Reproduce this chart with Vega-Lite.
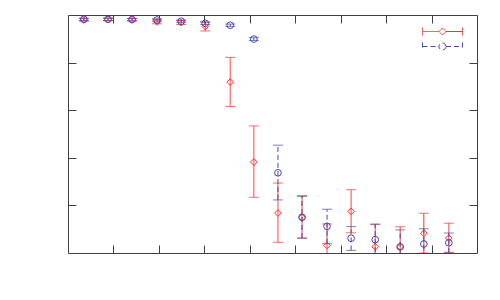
{
  "$schema": "https://vega.github.io/schema/vega-lite/v6.json",
  "width": 409,
  "height": 238,
  "autosize": {"type": "none"},
  "padding": {"left": 68, "top": 15, "right": 23, "bottom": 47},
  "background": "white",
  "config": {
    "view": {"stroke": "#404040", "strokeWidth": 1},
    "axis": {"labels": false, "domain": false, "grid": false, "title": null, "tickSize": -8, "tickColor": "#404040", "tickWidth": 1}
  },
  "data": {"values": [
    {"x": 0.35, "s": "r", "y": 0.979, "lo": 0.974, "hi": 0.985},
    {"x": 0.88, "s": "r", "y": 0.981, "lo": 0.976, "hi": 0.986},
    {"x": 1.41, "s": "r", "y": 0.980, "lo": 0.975, "hi": 0.985},
    {"x": 1.96, "s": "r", "y": 0.971, "lo": 0.963, "hi": 0.980},
    {"x": 2.49, "s": "r", "y": 0.968, "lo": 0.960, "hi": 0.977},
    {"x": 3.02, "s": "r", "y": 0.952, "lo": 0.933, "hi": 0.971},
    {"x": 3.57, "s": "r", "y": 0.718, "lo": 0.616, "hi": 0.822},
    {"x": 4.09, "s": "r", "y": 0.382, "lo": 0.234, "hi": 0.534},
    {"x": 4.62, "s": "r", "y": 0.168, "lo": 0.045, "hi": 0.294},
    {"x": 5.15, "s": "r", "y": 0.150, "lo": 0.062, "hi": 0.241},
    {"x": 5.70, "s": "r", "y": 0.032, "lo": -0.06, "hi": 0.122},
    {"x": 6.23, "s": "r", "y": 0.175, "lo": 0.085, "hi": 0.266},
    {"x": 6.76, "s": "r", "y": 0.026, "lo": -0.07, "hi": 0.121},
    {"x": 7.31, "s": "r", "y": 0.026, "lo": -0.06, "hi": 0.110},
    {"x": 7.83, "s": "r", "y": 0.083, "lo": 0.0, "hi": 0.167},
    {"x": 8.38, "s": "r", "y": 0.063, "lo": 0.003, "hi": 0.125},
    {"x": 0.35, "s": "b", "y": 0.982, "lo": 0.977, "hi": 0.987},
    {"x": 0.88, "s": "b", "y": 0.982, "lo": 0.977, "hi": 0.987},
    {"x": 1.41, "s": "b", "y": 0.981, "lo": 0.976, "hi": 0.986},
    {"x": 1.96, "s": "b", "y": 0.979, "lo": 0.974, "hi": 0.984},
    {"x": 2.49, "s": "b", "y": 0.974, "lo": 0.969, "hi": 0.979},
    {"x": 3.02, "s": "b", "y": 0.965, "lo": 0.960, "hi": 0.970},
    {"x": 3.57, "s": "b", "y": 0.957, "lo": 0.952, "hi": 0.962},
    {"x": 4.09, "s": "b", "y": 0.899, "lo": 0.893, "hi": 0.905},
    {"x": 4.62, "s": "b", "y": 0.337, "lo": 0.223, "hi": 0.453},
    {"x": 5.15, "s": "b", "y": 0.150, "lo": 0.063, "hi": 0.238},
    {"x": 5.70, "s": "b", "y": 0.112, "lo": 0.039, "hi": 0.184},
    {"x": 6.23, "s": "b", "y": 0.062, "lo": 0.011, "hi": 0.111},
    {"x": 6.76, "s": "b", "y": 0.056, "lo": -0.03, "hi": 0.121},
    {"x": 7.31, "s": "b", "y": 0.026, "lo": -0.04, "hi": 0.097},
    {"x": 7.83, "s": "b", "y": 0.038, "lo": -0.02, "hi": 0.102},
    {"x": 8.38, "s": "b", "y": 0.043, "lo": 0.0, "hi": 0.084}
  ]},
  "encoding": {
    "color": {
      "field": "s", "type": "nominal",
      "scale": {"domain": ["r", "b"], "range": ["#ff3030", "#4848a8"]},
      "legend": {
        "orient": "none", "legendX": 366.5, "legendY": 8.5, "title": null,
        "labelExpr": "''", "padding": 0, "rowPadding": 1, "symbolSize": 225,
        "symbolStrokeWidth": 1, "symbolFillColor": "transparent",
        "encode": {"symbols": {"update": {
          "shape": {"signal": "datum.value === 'r' ? 'M-2.667,0H-0.467M0.467,0H2.667M-2.667,-0.533V0.533M2.667,-0.533V0.533M0,-0.467L0.467,0L0,0.467L-0.467,0Z' : 'M-2.667,0H-0.467M0.467,0H2.667M-2.667,-0.533V0.533M2.667,-0.533V0.533M0.467,0A0.467,0.467,0,1,1,-0.467,0A0.467,0.467,0,1,1,0.467,0Z'"},
          "strokeDash": {"signal": "datum.value === 'r' ? [1,0] : [5,3]"},
          "fill": {"value": "transparent"}
        }}}
      }
    }
  },
  "layer": [
    {
      "mark": {"type": "rule", "clip": true, "strokeWidth": 1},
      "encoding": {
        "x": {"field": "x", "type": "quantitative", "scale": {"domain": [0, 9], "nice": false}, "axis": {"orient": "bottom", "values": [1, 2, 3, 4, 5, 6, 7, 8]}},
        "y": {"field": "lo", "type": "quantitative", "scale": {"domain": [0, 1], "nice": false, "zero": false}, "axis": {"orient": "left", "values": [0.2, 0.4, 0.6, 0.8]}},
        "y2": {"field": "hi"},
        "strokeDash": {"condition": {"test": "datum.s === 'r'", "value": [1, 0]}, "value": [5, 3]}
      }
    },
    {
      "mark": {"type": "tick", "orient": "horizontal", "clip": true, "size": 10, "thickness": 1},
      "encoding": {
        "x": {"field": "x", "type": "quantitative", "axis": {"orient": "top", "values": [1, 2, 3, 4, 5, 6, 7, 8]}},
        "y": {"field": "lo", "type": "quantitative", "axis": {"orient": "right", "values": [0.2, 0.4, 0.6, 0.8]}},
        "color": {"condition": {"test": "datum.s === 'r'", "value": "#ff3030"}, "value": "#4848a8"}
      }
    },
    {
      "mark": {"type": "tick", "orient": "horizontal", "clip": true, "size": 10, "thickness": 1},
      "encoding": {
        "x": {"field": "x", "type": "quantitative", "axis": null},
        "y": {"field": "hi", "type": "quantitative", "axis": null},
        "color": {"condition": {"test": "datum.s === 'r'", "value": "#ff3030"}, "value": "#4848a8"}
      }
    },
    {
      "mark": {"type": "point", "filled": false, "size": 45, "strokeWidth": 1, "opacity": 1},
      "encoding": {
        "x": {"field": "x", "type": "quantitative", "axis": null},
        "y": {"field": "y", "type": "quantitative", "axis": null},
        "shape": {"condition": {"test": "datum.s === 'r'", "value": "diamond"}, "value": "circle"}
      }
    }
  ]
}
